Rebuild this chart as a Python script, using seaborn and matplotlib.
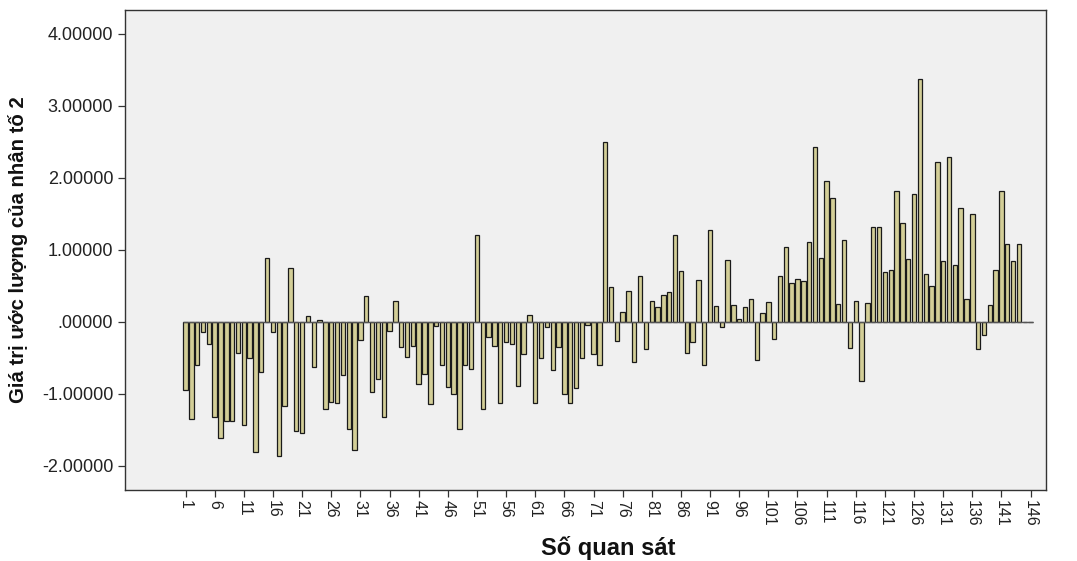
import numpy as np
import pandas as pd
import matplotlib
matplotlib.use("Agg")
import matplotlib.pyplot as plt
import seaborn as sns

# ---- data ----
values = [
    -0.95, -1.35, -0.61, -0.15, -0.31, -1.33, -1.62, -1.375, -1.375, -0.43,
    -1.44, -0.51, -1.81, -0.70, 0.89, -0.15, -1.87, -1.17, 0.74, -1.52,
    -1.55, 0.08, -0.63, 0.02, -1.22, -1.12, -1.125, -0.745, -1.49, -1.78,
    -0.26, 0.35, -0.98, -0.80, -1.33, -0.13, 0.28, -0.35, -0.49, -0.34,
    -0.87, -0.73, -1.14, -0.06, -0.61, -0.91, -1.00, -1.49, -0.61, -0.66,
    1.21, -1.22, -0.22, -0.34, -1.13, -0.29, -0.31, -0.89, -0.45, 0.09,
    -1.125, -0.51, -0.07, -0.67, -0.35, -1.01, -1.13, -0.92, -0.51, -0.05,
    -0.45, -0.60, 2.50, 0.48, -0.27, 0.14, 0.42, -0.56, 0.64, -0.38,
    0.28, 0.20, 0.37, 0.41, 1.21, 0.70, -0.43, -0.29, 0.58, -0.61,
    1.27, 0.21, -0.07, 0.86, 0.23, 0.04, 0.20, 0.31, -0.54, 0.125,
    0.27, -0.245, 0.64, 1.04, 0.53, 0.59, 0.56, 1.11, 2.42, 0.89,
    1.96, 1.72, 0.24, 1.14, -0.37, 0.29, -0.82, 0.26, 1.32, 1.31,
    0.685, 0.71, 1.82, 1.37, 0.87, 1.77, 3.37, 0.66, 0.49, 2.22,
    0.84, 2.29, 0.79, 1.58, 0.31, 1.50, -0.38, -0.18, 0.23, 0.72,
    1.81, 1.08, 0.84, 1.08, 0.0, 0.0,
]
observations = list(range(1, len(values) + 1))
x_tick_labels = [str(i) for i in range(1, 147, 5)]
y_tick_values = [-2, -1, 0, 1, 2, 3, 4]
y_tick_labels = ["-2.00000", "-1.00000", ".00000", "1.00000", "2.00000", "3.00000", "4.00000"]

df = pd.DataFrame({"obs": [str(o) for o in observations], "val": values})

sns.set_theme(style="white")
plt.rcParams["font.family"] = ["Liberation Sans", "DejaVu Sans"]

fig = plt.figure(figsize=(10.77, 5.61), dpi=100)
fig.patch.set_facecolor("white")
ax = fig.add_axes([0.116, 0.1266, 0.855, 0.8556])
ax.set_facecolor("#F0F0F0")

sns.barplot(data=df, x="obs", y="val", order=df["obs"], color="#D3CE97",
            edgecolor="#1a1a1a", linewidth=0.9, width=0.75, saturation=1,
            errorbar=None, ax=ax)

n = len(values)
ax.hlines(0, -0.4, n - 1 + 0.4, color="#555555", linewidth=1.0, zorder=3)

x0, x1 = -10.4, n - 1 + 2.6
ax.set_xlim(x0, x1)
ax.set_ylim(-2.34, 4.33)

ax.set_xticks(list(range(0, n, 5)))
ax.set_xticklabels(x_tick_labels, rotation=-90, fontsize=11.5, color="#222222")
ax.set_yticks(y_tick_values)
ax.set_yticklabels(y_tick_labels, fontsize=13, color="#222222")

ax.tick_params(axis="both", which="major", direction="out", length=5,
               width=0.9, color="#333333", bottom=True, left=True)
ax.tick_params(axis="x", pad=2)

for sp in ax.spines.values():
    sp.set_visible(True)
    sp.set_color("#333333")
    sp.set_linewidth(1.0)

ax.set_xlabel("Số quan sát", fontsize=17, fontweight="bold", color="#111111")
ax.xaxis.set_label_coords(((n - 1) / 2 - x0) / (x1 - x0), -0.095)
ax.xaxis.label.set_verticalalignment("top")
ax.set_ylabel("Giá trị ước lượng của nhân tố 2", fontsize=14.7, fontweight="bold",
              color="#111111", labelpad=10)

fig.savefig("out.png", dpi=100)
